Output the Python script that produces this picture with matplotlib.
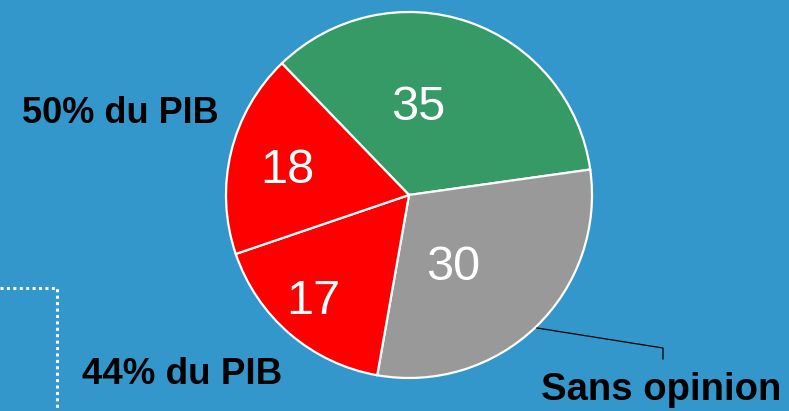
import matplotlib
matplotlib.use("Agg")
import matplotlib.pyplot as plt

# ====== DATA ======
values = [35, 30, 17, 18]
colors = ['#359a66', '#999999', '#ff0000', '#ff0000']
value_labels = ['35', '30', '17', '18']
side_labels = ['50% du PIB', '44% du PIB', 'Sans opinion']
# ==================

BG = '#3397cc'
W, H = 789, 411

plt.rcParams['font.family'] = ['Liberation Sans', 'DejaVu Sans']

fig = plt.figure(figsize=(W / 100, H / 100), dpi=100, facecolor=BG)
ax = fig.add_axes([0, 0, 1, 1])
ax.set_facecolor(BG)

cx, cy, r = 409, H - 195, 183
wedges, texts = ax.pie(values, colors=colors, startangle=134, counterclock=False,
                       center=(cx, cy), radius=r, labels=value_labels,
                       frame=True,
                       wedgeprops=dict(edgecolor='white', linewidth=1.6),
                       textprops=dict(color='white', fontsize=35))
# label spots as placed in the original (pixel offsets from the centre)
label_offsets = [(9, -88), (44, 72), (-96, 107), (-122, -25)]
for t, (dx, dy) in zip(texts, label_offsets):
    t.set_position((cx + dx, cy - dy))
    t.set_ha('center')
    t.set_va('center')

ax.set_xlim(0, W)
ax.set_ylim(0, H)
ax.set_aspect('equal')
ax.axis('off')

# side labels
ax.text(120, H - 113, side_labels[0], fontsize=26, fontweight='bold', ha='center', va='center')
ax.text(182, H - 375, side_labels[1], fontsize=26.5, fontweight='bold', ha='center', va='center')
ax.text(661, H - 390, side_labels[2], fontsize=27.5, fontweight='bold', ha='center', va='center')

# leader line to "Sans opinion"
ax.plot([537, 663, 663], [H - 328, H - 348, H - 359], color='black', lw=0.9)

# dotted bracket at left
ax.plot([0, 57, 57], [H - 288, H - 288, -2], color='white', lw=2.2,
        linestyle=(0, (1, 1.1)), dash_capstyle='butt', solid_joinstyle='miter')

fig.savefig('out.png', dpi=100, facecolor=BG)
